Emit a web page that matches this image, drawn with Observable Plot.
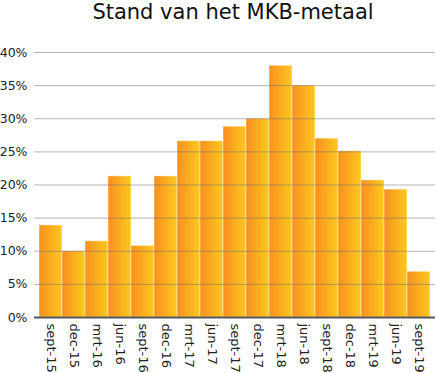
<!DOCTYPE html>
<html>
<head>
<meta charset="utf-8">
<script src="https://cdn.jsdelivr.net/npm/d3@7"></script>
<script src="https://cdn.jsdelivr.net/npm/@observablehq/plot@0.6"></script>
<style>
  body { margin: 0; background: #fff; font-family: "DejaVu Sans", Verdana, sans-serif; }
  #title { height: 36px; width: 436px; box-sizing: border-box; padding-left: 30px; text-align: center;
           font-size: 21px; line-height: 24px; color: #111; }
  #chart svg { display: block; }
</style>
</head>
<body>
<div id="title">Stand van het MKB-metaal</div>
<div id="chart"></div>
<script>
const categories = ["sept-15","dec-15","mrt-16","jun-16","sept-16","dec-16","mrt-17","jun-17","sept-17","dec-17","mrt-18","jun-18","sept-18","dec-18","mrt-19","jun-19","sept-19"];
const values = [13.9, 10.0, 11.5, 21.3, 10.8, 21.3, 26.6, 26.6, 28.8, 30.0, 38.0, 35.0, 27.0, 25.1, 20.7, 19.3, 6.9];
const yTicks = [0, 5, 10, 15, 20, 25, 30, 35, 40];

const data = categories.map((c, i) => ({cat: c, val: values[i]}));

const plot = Plot.plot({
  width: 436,
  height: 337,
  marginTop: 16,
  marginBottom: 56,
  marginLeft: 34,
  marginRight: 1,
  style: {fontFamily: "'DejaVu Sans', Verdana, sans-serif", fontSize: "12.5px", color: "#222", background: "#fff"},
  x: {domain: categories, paddingInner: 0, paddingOuter: 0.18, label: null},
  y: {domain: [0, 40], label: null},
  marks: [
    Plot.barY(data, {x: "cat", y: "val", fill: "url(#barGrad)", stroke: "#fff", strokeOpacity: 0.45, strokeWidth: 1, inset: 0}),
    Plot.ruleY(yTicks.filter(d => d > 0), {stroke: "#777", strokeOpacity: 0.55, strokeWidth: 1}),
    Plot.ruleY([0], {stroke: "#555", strokeWidth: 2}),
    Plot.axisY({ticks: yTicks, tickFormat: d => d + "%", tickSize: 0, tickPadding: 7, fontSize: 12.5}),
    Plot.axisX({tickSize: 0, tickRotate: 90, tickPadding: 6, fontSize: 13})
  ]
});

const defs = d3.select(plot).insert("defs", ":first-child");
const g = defs.append("linearGradient").attr("id", "barGrad").attr("x1", "0").attr("x2", "1").attr("y1", "0").attr("y2", "0");
g.append("stop").attr("offset", "0%").attr("stop-color", "#f7901f");
g.append("stop").attr("offset", "100%").attr("stop-color", "#fec81f");

document.getElementById("chart").appendChild(plot);
</script>
</body>
</html>
